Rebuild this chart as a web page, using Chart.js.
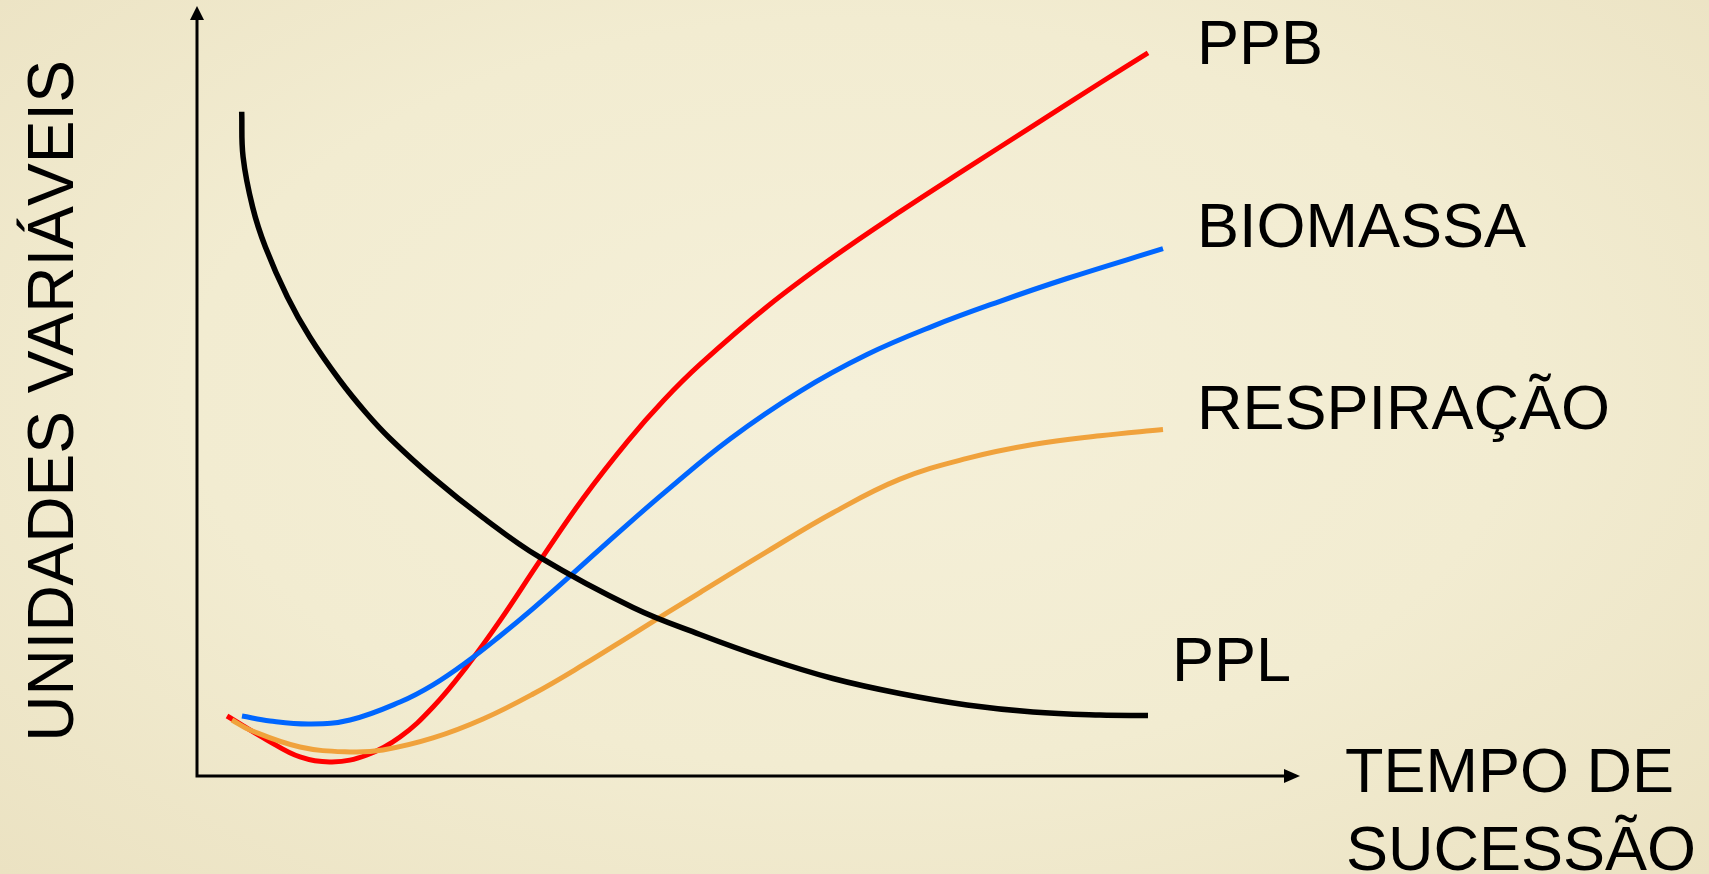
<!DOCTYPE html>
<html lang="pt">
<head>
<meta charset="utf-8">
<title>Sucessão ecológica</title>
<script src="https://cdn.jsdelivr.net/npm/chart.js@4.4.1/dist/chart.umd.min.js"></script>
<style>
    html, body {
        margin: 0;
        padding: 0;
        width: 1709px;
        height: 874px;
        overflow: hidden;
        background: radial-gradient(ellipse at 50% 45%, #f5f0d9 0%, #f2ecd1 55%, #ebe2c2 100%);
    }
    #chart {
        display: block;
    }
</style>
</head>
<body>
<canvas id="chart" width="1709" height="874"></canvas>
<script>
// values (x = tempo, y = unidades, arbitrary 0-100)
const pplX = [4.47, 4.61, 5.56, 6.84, 9.04, 11.28, 14.25, 16.92, 19.25, 23.6, 28.6, 34.3, 43.6, 50.3, 57.0, 63.6, 70.3, 77.0, 83.6, 90.3, 95.1];
const pplY = [86.27, 80.39, 73.9, 68.7, 62.21, 57.01, 51.43, 47.14, 43.9, 38.75, 33.56, 28.38, 21.88, 18.38, 15.26, 12.66, 10.71, 9.22, 8.31, 7.92, 7.86];

const ppbX = [3.0, 7.0, 10.3, 13.5, 17.0, 20.3, 23.6, 27.0, 30.3, 34.3, 38.6, 43.1, 46.7, 50.3, 57.0, 63.6, 70.3, 77.0, 83.6, 90.3, 95.1];
const ppbY = [7.79, 4.68, 2.47, 1.82, 2.73, 5.06, 8.96, 14.26, 20.17, 27.96, 36.05, 43.53, 48.83, 53.45, 60.94, 67.36, 73.29, 78.94, 84.43, 90.0, 93.92];

const bioX = [4.5, 7.3, 11.3, 15.3, 20.3, 23.6, 27.0, 30.3, 33.6, 37.6, 42.0, 47.0, 53.3, 60.3, 67.0, 73.6, 80.3, 87.0, 96.6];
const bioY = [7.79, 7.14, 6.75, 7.27, 9.61, 11.84, 14.84, 18.18, 21.74, 26.31, 31.45, 37.1, 43.78, 49.96, 54.74, 58.43, 61.65, 64.61, 68.48];

const respX = [3.5, 5.3, 10.3, 15.3, 18.6, 23.6, 28.6, 33.6, 38.6, 43.6, 50.3, 57.0, 63.6, 70.3, 77.0, 83.6, 90.3, 96.6];
const respY = [7.27, 5.97, 3.77, 3.12, 3.38, 4.94, 7.4, 10.65, 14.42, 18.44, 23.83, 29.14, 34.19, 38.55, 41.25, 43.05, 44.18, 45.0];

const seriesNames = ['PPL', 'RESPIRAÇÃO', 'BIOMASSA', 'PPB'];
const seriesColors = ['#000000', '#f0a23c', '#0066ff', '#ff0000'];
const axisTitleY = 'UNIDADES VARIÁVEIS';
const axisTitleX = ['TEMPO DE', 'SUCESSÃO'];

function toPoints(xs, ys) {
    return xs.map((x, i) => ({ x: x, y: ys[i] }));
}

const seriesData = [
    toPoints(pplX, pplY),
    toPoints(respX, respY),
    toPoints(bioX, bioY),
    toPoints(ppbX, ppbY)
];

// label offsets from the end of each curve (pixels)
const labelOffsets = [[24, -52], [34, -18], [34, -19], [49, -6]];

const FONT = '"Liberation Sans", Arial, Helvetica, sans-serif';

// draws the two arrowed axes and all the words
const axesAndLabels = {
    id: 'axesAndLabels',
    afterDatasetsDraw(chart) {
        const ctx = chart.ctx;
        const xs = chart.scales.x;
        const ys = chart.scales.y;
        const x0 = xs.getPixelForValue(0);
        const y0 = ys.getPixelForValue(0);
        const xEnd = xs.getPixelForValue(xs.max);
        const yTop = ys.getPixelForValue(ys.max);

        ctx.save();
        ctx.strokeStyle = '#000';
        ctx.fillStyle = '#000';
        ctx.lineWidth = 3;
        ctx.lineCap = 'butt';

        ctx.beginPath();
        ctx.moveTo(x0, y0 + 1.5);
        ctx.lineTo(x0, yTop + 10);
        ctx.moveTo(x0 - 1.5, y0);
        ctx.lineTo(xEnd - 12, y0);
        ctx.stroke();

        // arrow heads
        ctx.beginPath();
        ctx.moveTo(x0, yTop);
        ctx.lineTo(x0 - 7, yTop + 14);
        ctx.lineTo(x0 + 7, yTop + 14);
        ctx.closePath();
        ctx.fill();

        ctx.beginPath();
        ctx.moveTo(xEnd, y0);
        ctx.lineTo(xEnd - 16, y0 - 7);
        ctx.lineTo(xEnd - 16, y0 + 7);
        ctx.closePath();
        ctx.fill();

        // series labels next to curve ends
        ctx.font = '63px ' + FONT;
        ctx.textAlign = 'left';
        ctx.textBaseline = 'middle';
        chart.data.datasets.forEach((ds, i) => {
            const pts = chart.getDatasetMeta(i).data;
            const last = pts[pts.length - 1];
            ctx.fillText(ds.label, last.x + labelOffsets[i][0], last.y + labelOffsets[i][1]);
        });

        // x axis title
        ctx.textBaseline = 'alphabetic';
        ctx.fillText(axisTitleX[0], xEnd + 45, y0 + 16);
        ctx.fillText(axisTitleX[1], xEnd + 46, y0 + 94);

        // y axis title, rotated
        ctx.translate(x0 - 124, (y0 + yTop) / 2 + 10);
        ctx.rotate(-Math.PI / 2);
        ctx.font = '64px ' + FONT;
        ctx.textAlign = 'center';
        ctx.fillText(axisTitleY, 0, 0);
        ctx.restore();
    }
};

const ctx = document.getElementById('chart').getContext('2d');
const chart = new Chart(ctx, {
    type: 'line',
    data: {
        datasets: seriesNames.map((name, i) => ({
            label: name,
            data: seriesData[i],
            borderColor: seriesColors[i],
            borderWidth: i === 0 ? 5.5 : 5,
            pointRadius: 0,
            fill: false,
            tension: 0.4,
            clip: false
        }))
    },
    options: {
        responsive: false,
        animation: false,
        layout: {
            padding: { left: 197, right: 409, top: 6, bottom: 98 }
        },
        plugins: {
            legend: { display: false },
            tooltip: { enabled: false },
            title: { display: false }
        },
        scales: {
            x: { type: 'linear', min: 0, max: 110.3, display: false },
            y: { type: 'linear', min: 0, max: 100, display: false }
        }
    },
    plugins: [axesAndLabels]
});
</script>
</body>
</html>
